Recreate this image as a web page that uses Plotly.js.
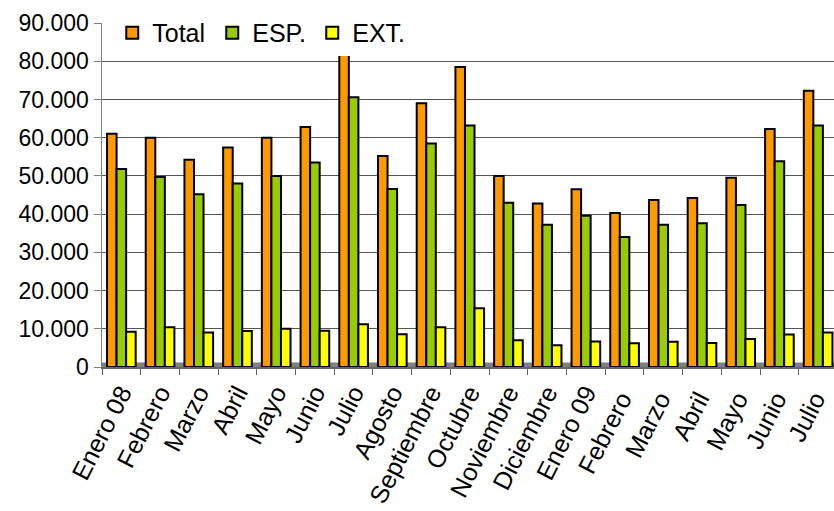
<!DOCTYPE html>
<html>
<head>
<meta charset="utf-8">
<script src="https://cdn.plot.ly/plotly-3.0.1.min.js"></script>
<style>html,body{margin:0;padding:0;background:#fff;}#chart{width:834px;height:511px;}</style>
</head>
<body>
<div id="chart"></div>
<script>
const categories = ["Enero 08","Febrero","Marzo","Abril","Mayo","Junio","Julio","Agosto","Septiembre","Octubre","Noviembre","Diciembre","Enero 09","Febrero ","Marzo ","Abril ","Mayo ","Junio ","Julio "];
const totalValues = [61000,60000,54200,57400,60000,62800,82000,55200,69000,78500,50000,42800,46500,40300,43700,44200,49500,62300,72300];
const espValues   = [51800,49700,45200,48000,50000,53500,70600,46600,58500,63200,43000,37200,39600,34000,37200,37600,42400,53800,63200];
const extValues   = [9200,10400,9000,9400,10000,9500,11200,8600,10400,15400,7000,5700,6700,6200,6600,6300,7300,8500,9000];
const yTicks = [0,10000,20000,30000,40000,50000,60000,70000,80000,90000];

const line = {color:'#000', width:2};
const traces = [
  {type:'bar', name:'Total', x:categories, y:totalValues, marker:{color:'#FF9900', line:line}},
  {type:'bar', name:'ESP.', x:categories, y:espValues, marker:{color:'#99CC00', line:line}},
  {type:'bar', name:'EXT.', x:categories, y:extValues, marker:{color:'#FFFF00', line:line}}
];

const layout = {
  width:834, height:511,
  margin:{l:102, r:0, t:23, b:144, pad:0},
  paper_bgcolor:'#fff', plot_bgcolor:'#fff',
  separators:',.',
  font:{family:'"Liberation Sans", Arial, sans-serif', color:'#000'},
  barmode:'group', bargap:0.26, bargroupgap:0,
  showlegend:true,
  legend:{orientation:'h', x:0.014, y:1.038, xanchor:'left', yanchor:'top',
          bgcolor:'#fff', font:{size:25, color:'#000'}, traceorder:'normal',
          itemwidth:30, entrywidth:55, tracegroupgap:0},
  xaxis:{type:'category', range:[-0.5, 18.41], tickangle:-63,
         tickfont:{size:25, color:'#000'}, ticks:'outside', tickson:'boundaries',
         ticklen:6, tickcolor:'#666', showline:true, linecolor:'#666', linewidth:1.5,
         showgrid:false, fixedrange:true},
  yaxis:{range:[0,90000], tickvals:yTicks, tickformat:',d',
         tickfont:{size:23, color:'#000'}, ticks:'outside', ticklen:7, tickcolor:'#808080',
         showline:true, linecolor:'#808080', linewidth:1.5,
         showgrid:true, gridcolor:'#555', gridwidth:1, zeroline:false, fixedrange:true},
  shapes:[{type:'rect', xref:'paper', yref:'y', x0:0, x1:1, y0:0, y1:1200,
           fillcolor:'#808080', line:{width:0}, layer:'below'}]
};

Plotly.newPlot('chart', traces, layout, {displayModeBar:false, staticPlot:true});
</script>
</body>
</html>
